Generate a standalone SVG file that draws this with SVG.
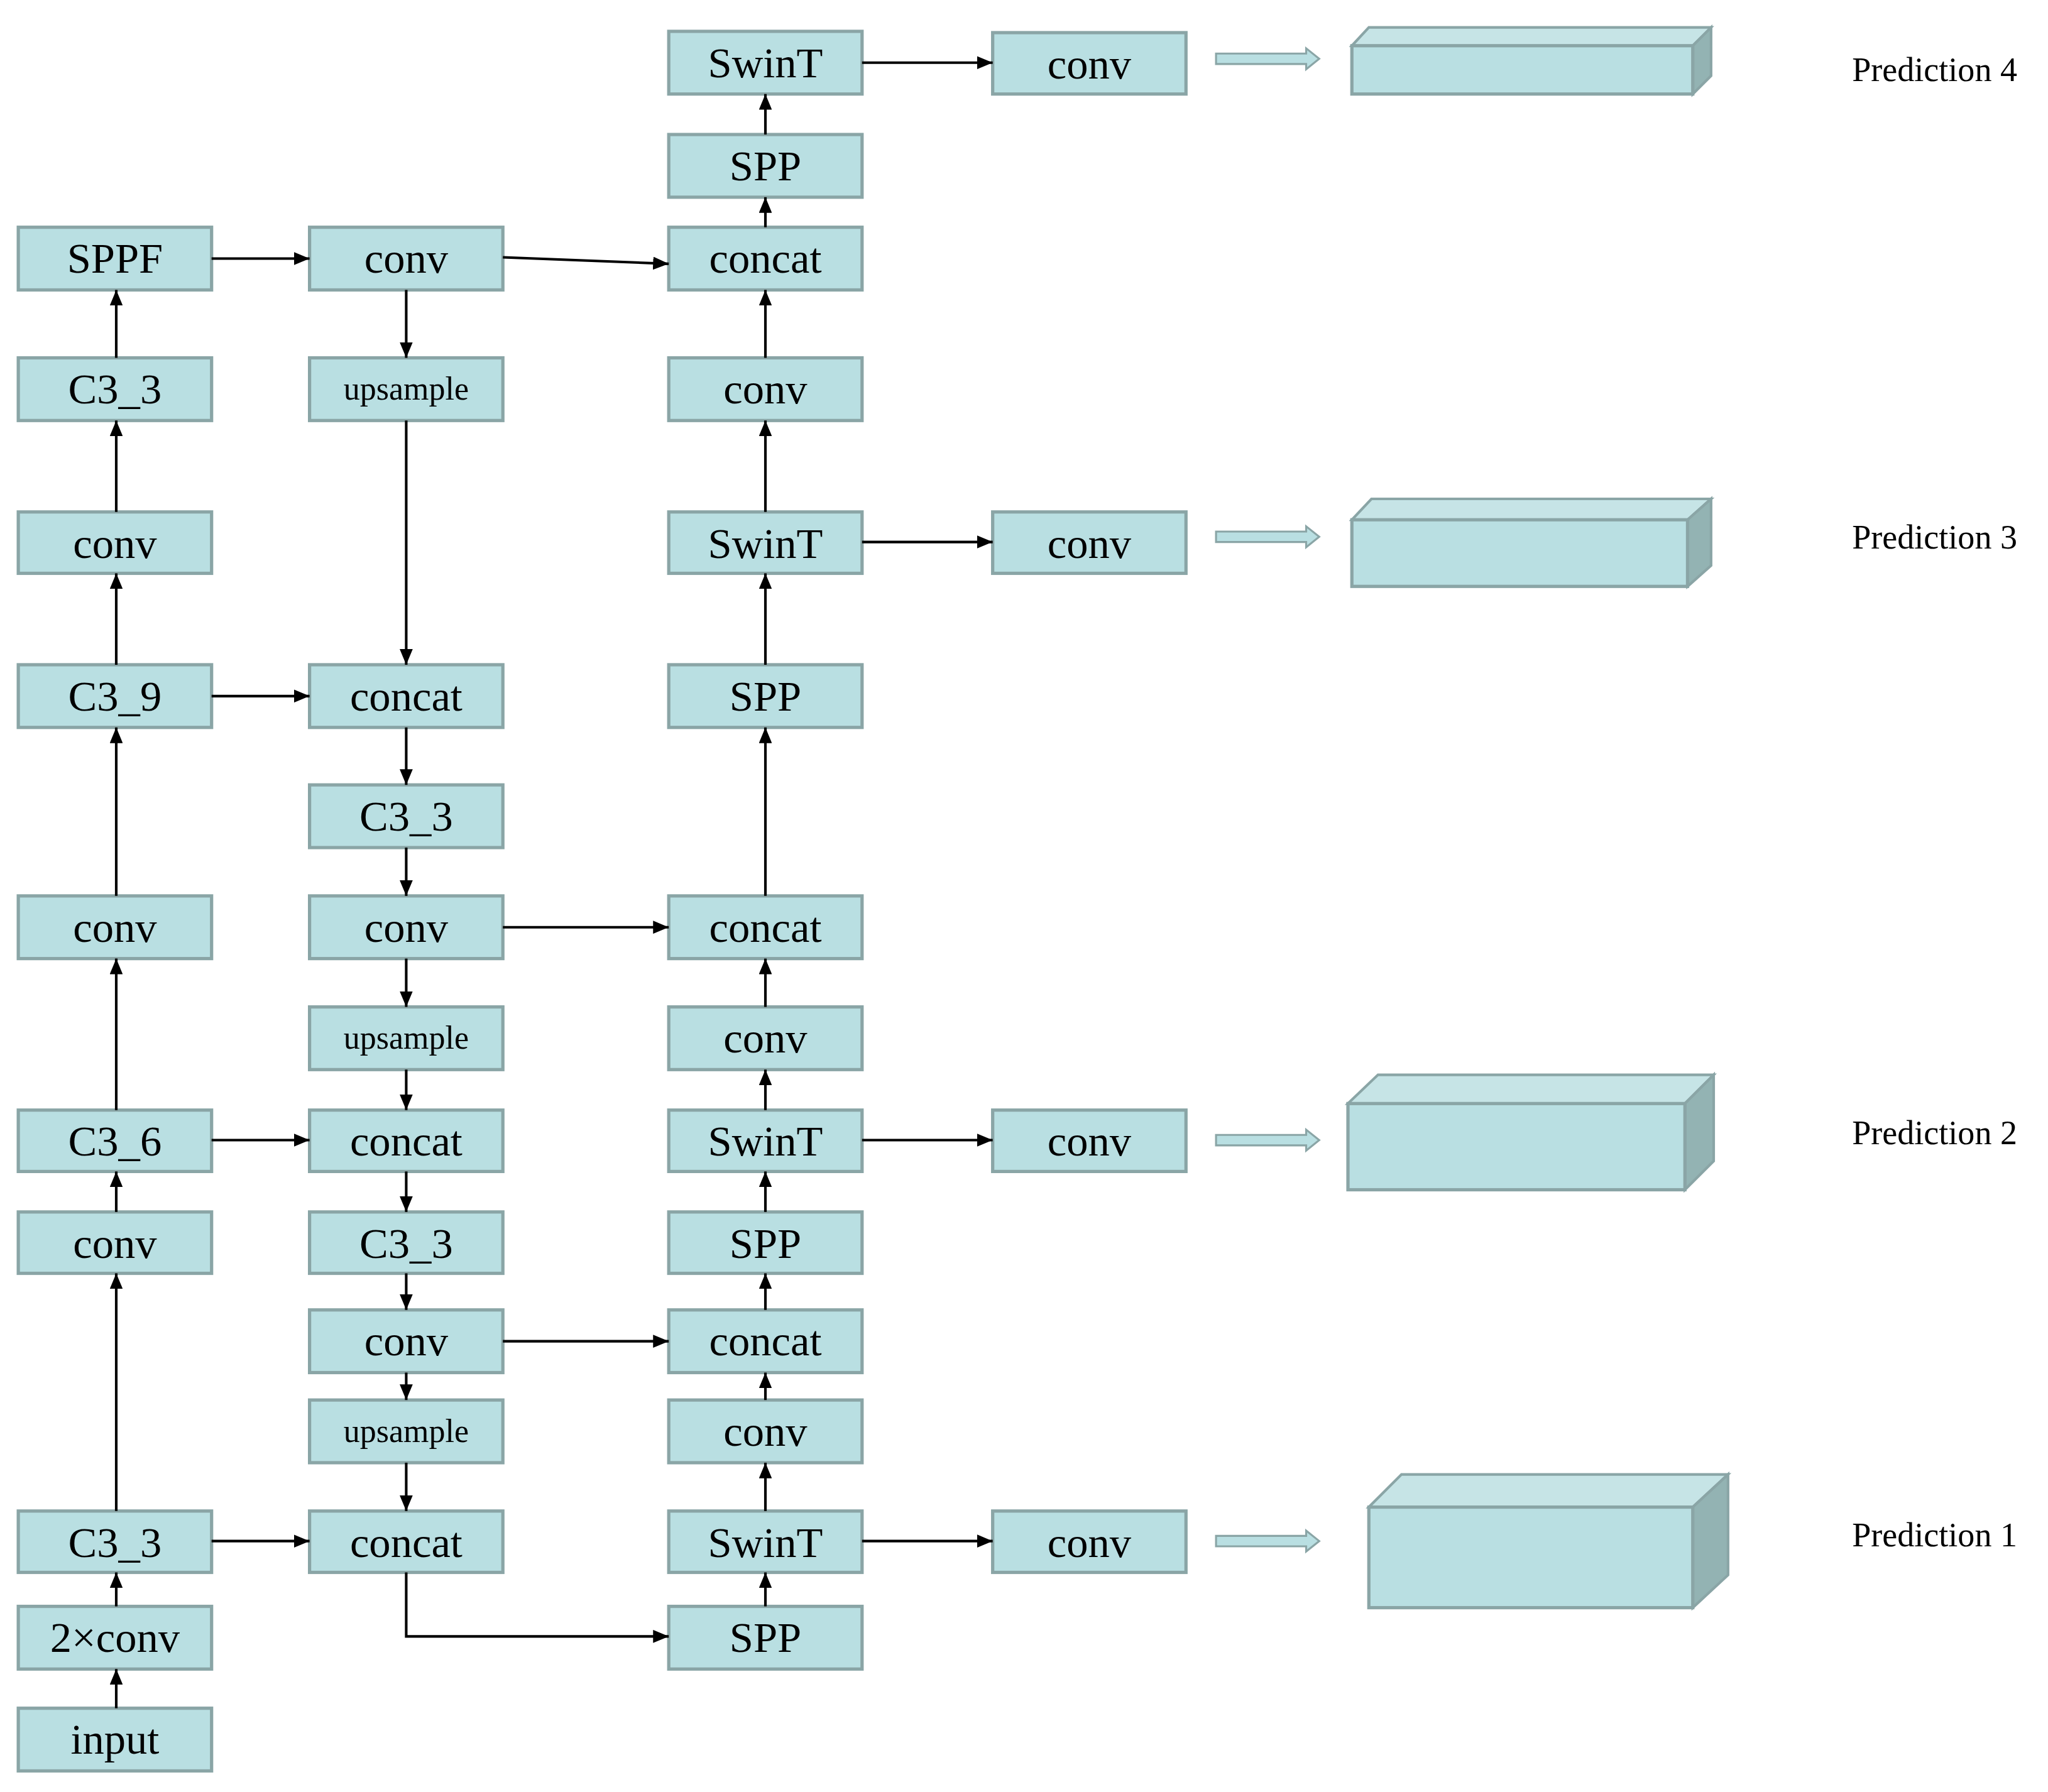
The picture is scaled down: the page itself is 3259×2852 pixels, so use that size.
<svg xmlns="http://www.w3.org/2000/svg" width="3259" height="2852" viewBox="0 0 3259 2852">
<defs>
<style>
.b{fill:#b9dfe2;stroke:#8aa5a6;stroke-width:2.5}
.t{font-family:"Liberation Serif",serif;font-size:33px;text-anchor:middle;fill:#000}
.s{font-size:25px}
.p{font-family:"Liberation Serif",serif;font-size:26px;fill:#000}
.c{fill:none;stroke:#000;stroke-width:2}
.top{fill:#c6e4e6;stroke:#8aa5a6;stroke-width:2}
.side{fill:#93b3b3;stroke:#8aa5a6;stroke-width:2}
.ha{fill:#b9dfe2;stroke:#8aa5a6;stroke-width:1.5}
</style>
<marker id="a" viewBox="0 0 12 10" refX="12" refY="5" markerWidth="12" markerHeight="10" markerUnits="userSpaceOnUse" orient="auto"><path d="M0,0L12,5L0,10z" fill="#000"/></marker>
</defs>
<rect width="3259" height="2852" fill="#fff"/>
<g transform="scale(2.0785)">
<g id="nodes">
<g id="c1_input"><rect class="b" x="14" y="1308" width="148" height="48"/><text class="t" x="88" y="1343">input</text></g>
<g id="c1_2conv"><rect class="b" x="14" y="1230" width="148" height="48"/><text class="t" x="88" y="1265">2×conv</text></g>
<g id="c1_c33"><rect class="b" x="14" y="1157" width="148" height="47"/><text class="t" x="88" y="1192">C3_3</text></g>
<g id="c1_conv2"><rect class="b" x="14" y="928" width="148" height="47"/><text class="t" x="88" y="963">conv</text></g>
<g id="c1_c36"><rect class="b" x="14" y="850" width="148" height="47"/><text class="t" x="88" y="885">C3_6</text></g>
<g id="c1_conv3"><rect class="b" x="14" y="686" width="148" height="48"/><text class="t" x="88" y="721">conv</text></g>
<g id="c1_c39"><rect class="b" x="14" y="509" width="148" height="48"/><text class="t" x="88" y="544">C3_9</text></g>
<g id="c1_conv4"><rect class="b" x="14" y="392" width="148" height="47"/><text class="t" x="88" y="427">conv</text></g>
<g id="c1_c33b"><rect class="b" x="14" y="274" width="148" height="48"/><text class="t" x="88" y="309">C3_3</text></g>
<g id="c1_sppf"><rect class="b" x="14" y="174" width="148" height="48"/><text class="t" x="88" y="209">SPPF</text></g>

<g id="c2_conv1"><rect class="b" x="237" y="174" width="148" height="48"/><text class="t" x="311" y="209">conv</text></g>
<g id="c2_up1"><rect class="b" x="237" y="274" width="148" height="48"/><text class="t s" x="311" y="306">upsample</text></g>
<g id="c2_concat1"><rect class="b" x="237" y="509" width="148" height="48"/><text class="t" x="311" y="544">concat</text></g>
<g id="c2_c33a"><rect class="b" x="237" y="601" width="148" height="48"/><text class="t" x="311" y="636">C3_3</text></g>
<g id="c2_conv2"><rect class="b" x="237" y="686" width="148" height="48"/><text class="t" x="311" y="721">conv</text></g>
<g id="c2_up2"><rect class="b" x="237" y="771" width="148" height="48"/><text class="t s" x="311" y="803">upsample</text></g>
<g id="c2_concat2"><rect class="b" x="237" y="850" width="148" height="47"/><text class="t" x="311" y="885">concat</text></g>
<g id="c2_c33b"><rect class="b" x="237" y="928" width="148" height="47"/><text class="t" x="311" y="963">C3_3</text></g>
<g id="c2_conv3"><rect class="b" x="237" y="1003" width="148" height="48"/><text class="t" x="311" y="1038">conv</text></g>
<g id="c2_up3"><rect class="b" x="237" y="1072" width="148" height="48"/><text class="t s" x="311" y="1104">upsample</text></g>
<g id="c2_concat3"><rect class="b" x="237" y="1157" width="148" height="47"/><text class="t" x="311" y="1192">concat</text></g>

<g id="c3_spp1"><rect class="b" x="512" y="1230" width="148" height="48"/><text class="t" x="586" y="1265">SPP</text></g>
<g id="c3_swin1"><rect class="b" x="512" y="1157" width="148" height="47"/><text class="t" x="586" y="1192">SwinT</text></g>
<g id="c3_conv1"><rect class="b" x="512" y="1072" width="148" height="48"/><text class="t" x="586" y="1107">conv</text></g>
<g id="c3_concat1"><rect class="b" x="512" y="1003" width="148" height="48"/><text class="t" x="586" y="1038">concat</text></g>
<g id="c3_spp2"><rect class="b" x="512" y="928" width="148" height="47"/><text class="t" x="586" y="963">SPP</text></g>
<g id="c3_swin2"><rect class="b" x="512" y="850" width="148" height="47"/><text class="t" x="586" y="885">SwinT</text></g>
<g id="c3_conv2"><rect class="b" x="512" y="771" width="148" height="48"/><text class="t" x="586" y="806">conv</text></g>
<g id="c3_concat2"><rect class="b" x="512" y="686" width="148" height="48"/><text class="t" x="586" y="721">concat</text></g>
<g id="c3_spp3"><rect class="b" x="512" y="509" width="148" height="48"/><text class="t" x="586" y="544">SPP</text></g>
<g id="c3_swin3"><rect class="b" x="512" y="392" width="148" height="47"/><text class="t" x="586" y="427">SwinT</text></g>
<g id="c3_conv3"><rect class="b" x="512" y="274" width="148" height="48"/><text class="t" x="586" y="309">conv</text></g>
<g id="c3_concat3"><rect class="b" x="512" y="174" width="148" height="48"/><text class="t" x="586" y="209">concat</text></g>
<g id="c3_spp4"><rect class="b" x="512" y="103" width="148" height="48"/><text class="t" x="586" y="138">SPP</text></g>
<g id="c3_swin4"><rect class="b" x="512" y="24" width="148" height="48"/><text class="t" x="586" y="59">SwinT</text></g>

<g id="c4_conv4"><rect class="b" x="760" y="25" width="148" height="47"/><text class="t" x="834" y="60">conv</text></g>
<g id="c4_conv3"><rect class="b" x="760" y="392" width="148" height="47"/><text class="t" x="834" y="427">conv</text></g>
<g id="c4_conv2"><rect class="b" x="760" y="850" width="148" height="47"/><text class="t" x="834" y="885">conv</text></g>
<g id="c4_conv1"><rect class="b" x="760" y="1157" width="148" height="47"/><text class="t" x="834" y="1192">conv</text></g>

<g id="pred4"><path class="ha" d="M931,41H1000V37L1010,45L1000,53V49H931z"/><path class="top" d="M1035,35L1048,21H1310L1296,35z"/><path class="side" d="M1296,35L1310,21V58L1296,72z"/><rect class="b" x="1035" y="35" width="261" height="37"/><text class="p" x="1418" y="62">Prediction 4</text></g>
<g id="pred3"><path class="ha" d="M931,407H1000V403L1010,411L1000,419V415H931z"/><path class="top" d="M1035,398L1050,382H1310L1292,398z"/><path class="side" d="M1292,398L1310,382V433L1292,449z"/><rect class="b" x="1035" y="398" width="257" height="51"/><text class="p" x="1418" y="420">Prediction 3</text></g>
<g id="pred2"><path class="ha" d="M931,869H1000V865L1010,873L1000,881V877H931z"/><path class="top" d="M1032,845L1055,823H1312L1290,845z"/><path class="side" d="M1290,845L1312,823V889L1290,911z"/><rect class="b" x="1032" y="845" width="258" height="66"/><text class="p" x="1418" y="876">Prediction 2</text></g>
<g id="pred1"><path class="ha" d="M931,1176H1000V1172L1010,1180L1000,1188V1184H931z"/><path class="top" d="M1048,1154L1073,1129H1323L1296,1154z"/><path class="side" d="M1296,1154L1323,1129V1206L1296,1231z"/><rect class="b" x="1048" y="1154" width="248" height="77"/><text class="p" x="1418" y="1184">Prediction 1</text></g>
</g>
<g id="connectors" class="c" marker-end="url(#a)">
<path d="M89,1308V1278"/><path d="M89,1230V1204"/><path d="M89,1157V975"/><path d="M89,928V897"/><path d="M89,850V734"/><path d="M89,686V557"/><path d="M89,509V439"/><path d="M89,392V322"/><path d="M89,274V222"/>
<path d="M162,198H237"/><path d="M162,533H237"/><path d="M162,873H237"/><path d="M162,1180H237"/>
<path d="M311,222V274"/><path d="M311,322V509"/><path d="M311,557V601"/><path d="M311,649V686"/><path d="M311,734V771"/><path d="M311,819V850"/><path d="M311,897V928"/><path d="M311,975V1003"/><path d="M311,1051V1072"/><path d="M311,1120V1157"/><path d="M311,1204V1253H512"/>
<path d="M385,197L512,202"/><path d="M385,710H512"/><path d="M385,1027H512"/>
<path d="M586,1230V1204"/><path d="M586,1157V1120"/><path d="M586,1072V1051"/><path d="M586,1003V975"/><path d="M586,928V897"/><path d="M586,850V819"/><path d="M586,771V734"/><path d="M586,686V557"/><path d="M586,509V439"/><path d="M586,392V322"/><path d="M586,274V222"/><path d="M586,174V151"/><path d="M586,103V72"/>
<path d="M660,48H760"/><path d="M660,415H760"/><path d="M660,873H760"/><path d="M660,1180H760"/>
</g>
</g>
</svg>
